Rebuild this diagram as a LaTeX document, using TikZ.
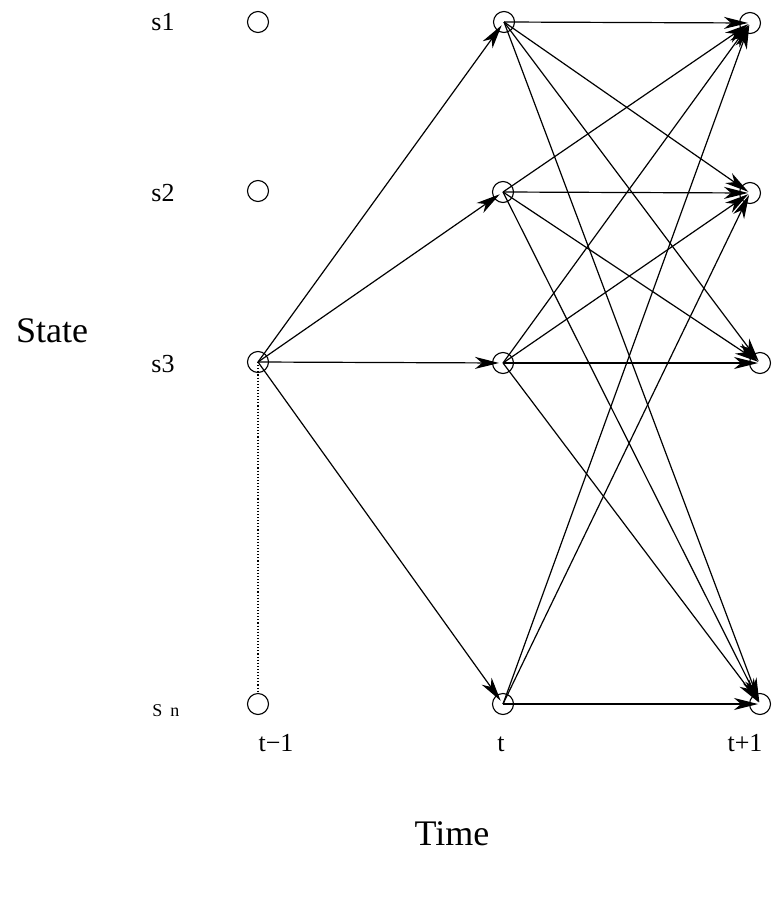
\documentclass[tikz,border=0pt]{standalone}
\usepackage{fontspec}
\setmainfont{Liberation Serif}
\usetikzlibrary{arrows.meta}
\begin{document}
\begin{tikzpicture}[x=1pt,y=-1pt,
  st/.style={circle,draw,line width=1.1pt,minimum size=21pt,inner sep=0pt},
  tr/.style={line width=1.2pt,-{Stealth[length=24pt,width=12pt,inset=7pt]},shorten >=2pt},
  lab/.style={font=\fontsize{26}{26}\selectfont,anchor=base,inner sep=0pt},
  big/.style={font=\fontsize{36}{36}\selectfont,anchor=base,inner sep=0pt}]
\useasboundingbox (0,0) rectangle (781,907);
% t-1 column
\node[st] (a1) at (258,22) {};
\node[st] (a2) at (258,191) {};
\node[st] (a3) at (258,362) {};
\node[st] (an) at (258,704) {};
% t column
\node[st] (b1) at (504,22) {};
\node[st] (b2) at (503,192) {};
\node[st] (b3) at (503,363) {};
\node[st] (bn) at (503,704) {};
% t+1 column
\node[st] (c1) at (750,23) {};
\node[st] (c2) at (750,193) {};
\node[st] (c3) at (760,363) {};
\node[st] (cn) at (760,704) {};
% labels
\node[lab] (l1) at (163,31) {s1};
\node[lab] (l2) at (163,201) {s2};
\node[lab] (l3) at (163,372) {s3};
\node[font=\fontsize{18}{18}\selectfont,anchor=base,inner sep=0pt] (ln) at (166,716) {S\hspace{8pt}n};
\node[lab] (tm1) at (276,751) {t−1};
\node[lab] (t0) at (501,751) {t};
\node[lab] (tp1) at (745,751) {t+1};
\node[big] (state) at (52,342) {State};
\node[big] (time) at (452,845) {Time};
% dotted
\draw[dotted,line width=1.1pt] (a3.center) -- (an.north);
% from t-1
\foreach \b in {b1,b2,b3,bn} \draw[tr,shorten >=4pt] (a3.center) -- (\b.center);
% from t
\foreach \s/\e in {b1/c1,b1/c2,b1/c3,b1/cn,
                   b2/c1,b2/c2,b2/c3,b2/cn,
                   b3/c1,b3/c2,b3/c3,b3/cn,
                   bn/c1,bn/c2,bn/cn}
  \draw[tr] (\s.center) -- (\e.center);
\end{tikzpicture}
\end{document}
